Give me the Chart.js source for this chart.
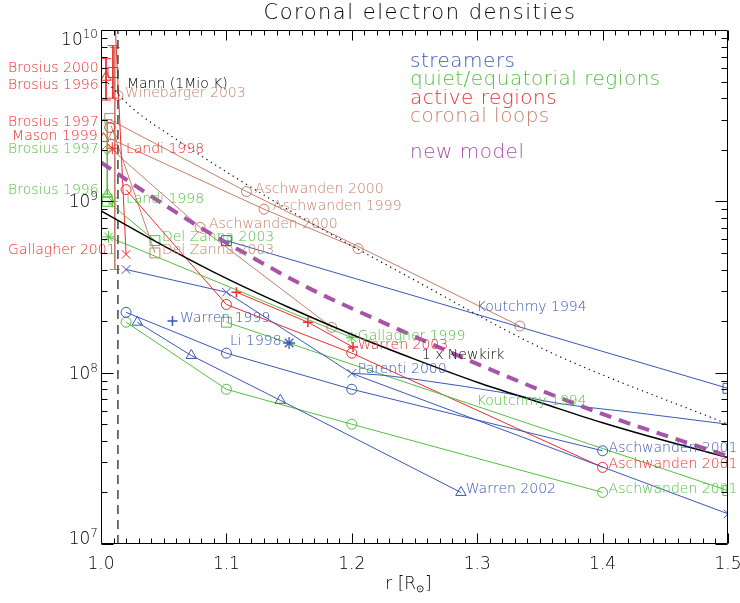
<!DOCTYPE html>
<html lang="en">
<head>
<meta charset="UTF-8">
<title>Coronal electron densities</title>
<script src="https://cdn.jsdelivr.net/npm/chart.js"></script>
<style>
  html, body { margin: 0; padding: 0; background: #fff; }
</style>
</head>
<body>
<canvas id="densChart" width="740" height="603"></canvas>
<script>
// ---- data (r in solar radii, n in cm^-3) ----

// streamers
const koutchmyStrR = [1.10, 1.50];
const koutchmyStrN = [5.9e8, 8.1e7];
const parentiR = [1.02, 1.10, 1.20, 1.50];
const parentiN = [4.0e8, 2.95e8, 9.9e7, 1.5e7];
const parentiFitR = [1.20, 1.222, 1.262, 1.318, 1.366, 1.43, 1.50];
const parentiFitN = [9.9e7, 9.7e7, 8.9e7, 7.7e7, 6.6e7, 5.8e7, 5.0e7];
const aschw01StrR = [1.02, 1.10, 1.20, 1.40];
const aschw01StrN = [2.25e8, 1.30e8, 8.0e7, 3.5e7];
const warren02R = [1.029, 1.072, 1.143, 1.287];
const warren02N = [1.97e8, 1.26e8, 6.9e7, 2.0e7];
const warren99R = [1.057];
const warren99N = [2.0e8];
const li98R = [1.15];
const li98N = [1.49e8];

// quiet / equatorial regions
const aschw01QuietR = [1.02, 1.10, 1.20, 1.40];
const aschw01QuietN = [1.97e8, 8.0e7, 5.0e7, 2.0e7];
const koutchmyQuietR = [1.10, 1.50];
const koutchmyQuietN = [1.97e8, 2.05e7];
const gallagher99R = [1.006, 1.20];
const gallagher99N = [6.2e8, 1.6e8];
const delZannaQuietR = [1.005, 1.043];
const delZannaQuietN = [1.0e9, 5.9e8];
const landiQuietR = [1.009];
const landiQuietN = [1.0e9];
const brosius96QuietR = [1.005];
const brosius96QuietN = [1.1e9];
const brosius97QuietR = [1.005];
const brosius97QuietN = [2.0e9];
const brosius97QuietErr = [3.0e9, 1.1e9];

// active regions
const aschw01ActR = [1.02, 1.10, 1.20, 1.40];
const aschw01ActN = [1.17e9, 2.5e8, 1.3e8, 2.8e7];
const warren03R = [1.108, 1.165, 1.201];
const warren03N = [2.95e8, 1.97e8, 1.41e8];
const gallagher01R = [1.011, 1.02];
const gallagher01N = [1.2e10, 4.9e8];
const landiActR = [1.009];
const landiActN = [2.04e9];
const mason99R = [1.002];
const mason99N = [2.33e9];
const brosius97ActR = [1.007];
const brosius97ActN = [2.7e9];
const brosius00R = [1.0095];
const brosius00N = [5.65e9];
const brosius00Err = [8.1e9, 4.0e9];
const brosius96ActR = [1.004];
const brosius96ActN = [5.3e9];
const brosius96ActErr = [6.8e9, 3.9e9];

// coronal loops
const aschw00aR = [1.007, 1.116, 1.334];
const aschw00aN = [3.0e9, 1.14e9, 1.87e8];
const aschw99R = [1.007, 1.130, 1.205];
const aschw99N = [2.33e9, 9.0e8, 5.3e8];
const aschw00bR = [1.0095, 1.079, 1.184];
const aschw00bN = [1.98e9, 7.05e8, 1.84e8];
const delZannaLoopR = [1.008, 1.043];
const delZannaLoopN = [2.77e9, 5.0e8];
const winebargerR = [1.0135];
const winebargerN = [4.15e9];
const brosius97LoopR = [1.007];
const brosius97LoopN = [3.05e9];
const loopTriR = [1.0095];
const loopTriN = [2.39e9];
const loopErrR = 1.011;
const loopErr = [7.9e9, 4.0e8];

// models
const newkirkR = [1.00, 1.05, 1.10, 1.15, 1.20, 1.25, 1.30, 1.35, 1.40, 1.45, 1.50];
const newkirkN = [8.8e8, 5.5e8, 3.55e8, 2.4e8, 1.67e8, 1.2e8, 8.8e7, 6.7e7, 5.1e7, 4.0e7, 3.2e7];
const mannR = [1.0056, 1.023, 1.060, 1.151, 1.246, 1.355, 1.50];
const mannN = [4.9e9, 3.6e9, 2.3e9, 8.8e8, 3.6e8, 1.35e8, 5.0e7];
const newModelR = [1.00, 1.0255, 1.079, 1.119, 1.164, 1.230, 1.318, 1.398, 1.50];
const newModelN = [1.69e9, 1.26e9, 7.05e8, 4.78e8, 3.16e8, 1.89e8, 9.9e7, 5.8e7, 3.26e7];
const cutoffR = 1.0135;

// axes
const xTickValues = [1.0, 1.1, 1.2, 1.3, 1.4, 1.5];
const xTickLabels = ['1.0', '1.1', '1.2', '1.3', '1.4', '1.5'];
const yTickExponents = [7, 8, 9, 10];

const BLUE = '#3a58b4';
const GREEN = '#55be42';
const RED = '#f02b2b';
const BROWN = '#c4806a';
const PURPLE = '#a653a8';

const legendItems = [
    ['streamers', BLUE],
    ['quiet/equatorial regions', GREEN],
    ['active regions', RED],
    ['coronal loops', BROWN],
    ['new model', PURPLE]
];

// text labels next to the curves (r, n = anchor of left end)
const notes = [
    { t: 'Brosius 2000', r: 0.9259, n: 5.97e9, c: RED },
    { t: 'Brosius 1996', r: 0.9259, n: 4.74e9, c: RED },
    { t: 'Brosius 1997', r: 0.9259, n: 2.89e9, c: RED },
    { t: 'Mason 1999', r: 0.9291, n: 2.39e9, c: RED },
    { t: 'Brosius 1997', r: 0.9259, n: 2.01e9, c: GREEN },
    { t: 'Brosius 1996', r: 0.9259, n: 1.16e9, c: GREEN },
    { t: 'Gallagher 2001', r: 0.9259, n: 5.18e8, c: RED },
    { t: 'Mann (1Mio K)', r: 1.0207, n: 4.81e9, c: '#000' },
    { t: 'Winebarger 2003', r: 1.0191, n: 4.26e9, c: BROWN },
    { t: 'Landi 1998', r: 1.0199, n: 2.01e9, c: RED },
    { t: 'Landi 1998', r: 1.0199, n: 1.03e9, c: GREEN },
    { t: 'Aschwanden 2000', r: 1.1227, n: 1.17e9, c: BROWN },
    { t: 'Aschwanden 1999', r: 1.137, n: 9.36e8, c: BROWN },
    { t: 'Aschwanden 2000', r: 1.0861, n: 7.35e8, c: BROWN },
    { t: 'Del Zanna 2003', r: 1.0486, n: 6.17e8, c: GREEN },
    { t: 'Del Zanna 2003', r: 1.0486, n: 5.18e8, c: BROWN },
    { t: 'Koutchmy 1994', r: 1.2996, n: 2.41e8, c: BLUE },
    { t: 'Warren 1999', r: 1.063, n: 2.08e8, c: BLUE },
    { t: 'Li 1998', r: 1.1028, n: 1.53e8, c: BLUE },
    { t: 'Gallagher 1999', r: 1.2048, n: 1.63e8, c: GREEN },
    { t: 'Warren 2003', r: 1.2048, n: 1.45e8, c: RED },
    { t: '1 x Newkirk', r: 1.2558, n: 1.26e8, c: '#000' },
    { t: 'Parenti 2000', r: 1.2048, n: 1.05e8, c: BLUE },
    { t: 'Koutchmy 1994', r: 1.2996, n: 6.82e7, c: GREEN },
    { t: 'Aschwanden 2001', r: 1.4048, n: 3.63e7, c: BLUE },
    { t: 'Aschwanden 2001', r: 1.4048, n: 2.93e7, c: RED },
    { t: 'Aschwanden 2001', r: 1.4048, n: 2.09e7, c: GREEN },
    { t: 'Warren 2002', r: 1.2908, n: 2.09e7, c: BLUE }
];

function series(r, n, color, opts) {
    return Object.assign({
        data: r.map((x, i) => ({ x: x, y: n[i] })),
        showLine: true,
        borderColor: color,
        backgroundColor: 'rgba(0,0,0,0)',
        borderWidth: 1,
        pointStyle: 'circle',
        pointRadius: 0,
        pointBorderColor: color,
        pointBorderWidth: 1,
        pointBackgroundColor: 'rgba(0,0,0,0)',
        fill: false
    }, opts || {});
}

function errBar(r, lims, color) {
    return series([r, r], lims, color, { pointStyle: 'line', pointRadius: 5 });
}

const datasets = [
    series(newModelR, newModelN, PURPLE, { borderWidth: 4, borderDash: [12, 8], cubicInterpolationMode: 'monotone' }),
    series(newkirkR, newkirkN, '#000', { borderWidth: 1.5, cubicInterpolationMode: 'monotone' }),
    series(mannR, mannN, '#000', { borderWidth: 1.2, borderDash: [1.2, 4], cubicInterpolationMode: 'monotone' }),
    series([cutoffR, cutoffR], [1e7, 1e10], '#444', { borderWidth: 1.5, borderDash: [9, 6] }),

    series(koutchmyStrR, koutchmyStrN, BLUE, { pointStyle: 'rect', pointRadius: 7 }),
    series(parentiR, parentiN, BLUE, { pointStyle: 'crossRot', pointRadius: 6 }),
    series(parentiFitR, parentiFitN, BLUE, { cubicInterpolationMode: 'monotone' }),
    series(aschw01StrR, aschw01StrN, BLUE, { pointRadius: 5 }),
    series(warren02R, warren02N, BLUE, { pointStyle: 'triangle', pointRadius: 6 }),
    series(warren99R, warren99N, BLUE, { pointStyle: 'cross', pointRadius: 5, pointBorderWidth: 1.5 }),
    series(li98R, li98N, BLUE, { pointStyle: 'star', pointRadius: 6, pointBorderWidth: 1.3 }),

    series(aschw01QuietR, aschw01QuietN, GREEN, { pointRadius: 5 }),
    series(koutchmyQuietR, koutchmyQuietN, GREEN, { pointStyle: 'rect', pointRadius: 7 }),
    series(gallagher99R, gallagher99N, GREEN, { pointStyle: 'star', pointRadius: 6 }),
    series(delZannaQuietR, delZannaQuietN, GREEN, { pointStyle: 'rect', pointRadius: 7 }),
    series(landiQuietR, landiQuietN, GREEN, { pointStyle: 'star', pointRadius: 6 }),
    series(brosius96QuietR, brosius96QuietN, GREEN, { pointStyle: 'triangle', pointRadius: 6 }),
    series(brosius97QuietR, brosius97QuietN, GREEN, { pointStyle: 'rectRot', pointRadius: 5 }),
    errBar(brosius97QuietR[0], brosius97QuietErr, GREEN),

    series(aschw01ActR, aschw01ActN, RED, { pointRadius: 5 }),
    series(warren03R, warren03N, RED, { pointStyle: 'cross', pointRadius: 5, pointBorderWidth: 1.5 }),
    series(gallagher01R, gallagher01N, RED, { pointStyle: 'crossRot', pointRadius: [0, 6] }),
    series(landiActR, landiActN, RED, { pointStyle: 'star', pointRadius: 6 }),
    series(mason99R, mason99N, RED, { pointStyle: 'triangle', pointRadius: 6 }),
    series(brosius97ActR, brosius97ActN, RED, { pointRadius: 5 }),
    series(brosius00R, brosius00N, RED, { pointStyle: 'rect', pointRadius: 7 }),
    errBar(brosius00R[0], brosius00Err, RED),
    series(brosius96ActR, brosius96ActN, RED, { pointStyle: 'triangle', pointRadius: 6 }),
    errBar(brosius96ActR[0], brosius96ActErr, RED),

    series(aschw00aR, aschw00aN, BROWN, { pointRadius: [0, 5, 5] }),
    series(aschw99R, aschw99N, BROWN, { pointRadius: [0, 5, 5] }),
    series(aschw00bR, aschw00bN, BROWN, { pointRadius: [0, 5, 5] }),
    series(delZannaLoopR, delZannaLoopN, BROWN, { pointStyle: 'rect', pointRadius: [0, 7] }),
    series(winebargerR, winebargerN, BROWN, { pointRadius: 5 }),
    series(brosius97LoopR, brosius97LoopN, BROWN, { pointStyle: 'rect', pointRadius: 7 }),
    series(loopTriR, loopTriN, BROWN, { pointStyle: 'triangle', pointRadius: 6 }),
    errBar(loopErrR, loopErr, BROWN)
];

const FONT = '"DejaVu Sans", sans-serif';
const W = '200 ';

const decor = {
    id: 'decor',
    afterDraw(chart) {
        const ctx = chart.ctx;
        const a = chart.chartArea;
        const xs = chart.scales.x;
        const ys = chart.scales.y;
        ctx.save();

        // curve labels
        ctx.font = W + '14px ' + FONT;
        ctx.textBaseline = 'middle';
        ctx.textAlign = 'left';
        notes.forEach(o => {
            ctx.fillStyle = o.c;
            ctx.fillText(o.t, xs.getPixelForValue(o.r), ys.getPixelForValue(o.n));
        });

        // frame
        ctx.strokeStyle = '#000';
        ctx.lineWidth = 1;
        const L = Math.round(a.left) + 0.5, R = Math.round(a.right) - 0.5;
        const T = Math.round(a.top) + 0.5, B = Math.round(a.bottom) - 0.5;
        ctx.beginPath();
        ctx.rect(L, T, R - L, B - T);
        // x ticks every 0.01, major every 0.1
        for (let k = 0; k <= 50; k++) {
            const px = Math.round(xs.getPixelForValue(1 + k / 100)) + 0.5;
            const len = k % 10 === 0 ? 10 : 5;
            ctx.moveTo(px, B); ctx.lineTo(px, B - len);
            ctx.moveTo(px, T); ctx.lineTo(px, T + len);
        }
        // y ticks 1..9 per decade
        for (let d = 7; d <= 9; d++) {
            for (let m = 1; m <= 9; m++) {
                const py = Math.round(ys.getPixelForValue(m * Math.pow(10, d))) + 0.5;
                const len = m === 1 ? 12 : 6;
                ctx.moveTo(L, py); ctx.lineTo(L + len, py);
                ctx.moveTo(R, py); ctx.lineTo(R - len, py);
            }
        }
        ctx.stroke();

        // x tick labels
        ctx.fillStyle = '#000';
        ctx.font = W + '17px ' + FONT;
        ctx.textAlign = 'center';
        ctx.textBaseline = 'middle';
        xTickValues.forEach((v, i) => {
            ctx.fillText(xTickLabels[i], xs.getPixelForValue(v), a.bottom + 21);
        });

        // y tick labels 10^n
        ctx.textBaseline = 'alphabetic';
        yTickExponents.forEach(e => {
            const py = ys.getPixelForValue(Math.pow(10, e));
            let base = py + 6;
            if (e === 7) base = py;
            if (e === 10) base = py + 15;
            ctx.font = W + '12px ' + FONT;
            const ew = ctx.measureText(String(e)).width;
            ctx.textAlign = 'right';
            ctx.fillText(String(e), a.left - 3, base - 7);
            ctx.font = W + '17px ' + FONT;
            ctx.fillText('10', a.left - 3 - ew, base);
        });

        // axis title r [R_sun]
        ctx.font = W + '17px ' + FONT;
        ctx.textAlign = 'left';
        const p1 = 'r [R', p3 = ']';
        const w1 = ctx.measureText(p1).width;
        ctx.font = W + '10px ' + FONT;
        const w2 = ctx.measureText('\u2299').width;
        ctx.font = W + '17px ' + FONT;
        const w3 = ctx.measureText(p3).width;
        const x0 = 408 - (w1 + w2 + w3) / 2;
        const yb = 589;
        ctx.fillText(p1, x0, yb);
        ctx.font = W + '10px ' + FONT;
        ctx.fillText('\u2299', x0 + w1, yb + 3);
        ctx.font = W + '17px ' + FONT;
        ctx.fillText(p3, x0 + w1 + w2 + 1, yb);

        // title
        ctx.font = W + '21px ' + FONT;
        ctx.letterSpacing = '1.5px';
        ctx.textAlign = 'center';
        ctx.textBaseline = 'middle';
        ctx.fillText('Coronal electron densities', 420, 14);

        // legend
        ctx.font = W + '20px ' + FONT;
        ctx.letterSpacing = '0.5px';
        ctx.textAlign = 'left';
        const ly = [62, 80, 99, 117, 153];
        legendItems.forEach((it, i) => {
            ctx.fillStyle = it[1];
            ctx.fillText(it[0], 410, ly[i]);
        });
        ctx.letterSpacing = '0px';
        ctx.restore();
    }
};

new Chart(document.getElementById('densChart').getContext('2d'), {
    type: 'scatter',
    data: { datasets: datasets },
    options: {
        responsive: false,
        animation: false,
        events: [],
        layout: { padding: { top: 30, right: 12, left: 0, bottom: 0 } },
        plugins: {
            legend: { display: false },
            tooltip: { enabled: false },
            title: { display: false }
        },
        scales: {
            x: {
                type: 'linear', min: 1.0, max: 1.5,
                ticks: { display: false },
                grid: { display: false, drawTicks: false },
                border: { display: false },
                afterFit(s) { s.height = 59; }
            },
            y: {
                type: 'logarithmic', min: 1e7, max: 1e10,
                ticks: { display: false },
                grid: { display: false, drawTicks: false },
                border: { display: false },
                afterFit(s) { s.width = 101; }
            }
        }
    },
    plugins: [decor]
});
</script>
</body>
</html>
